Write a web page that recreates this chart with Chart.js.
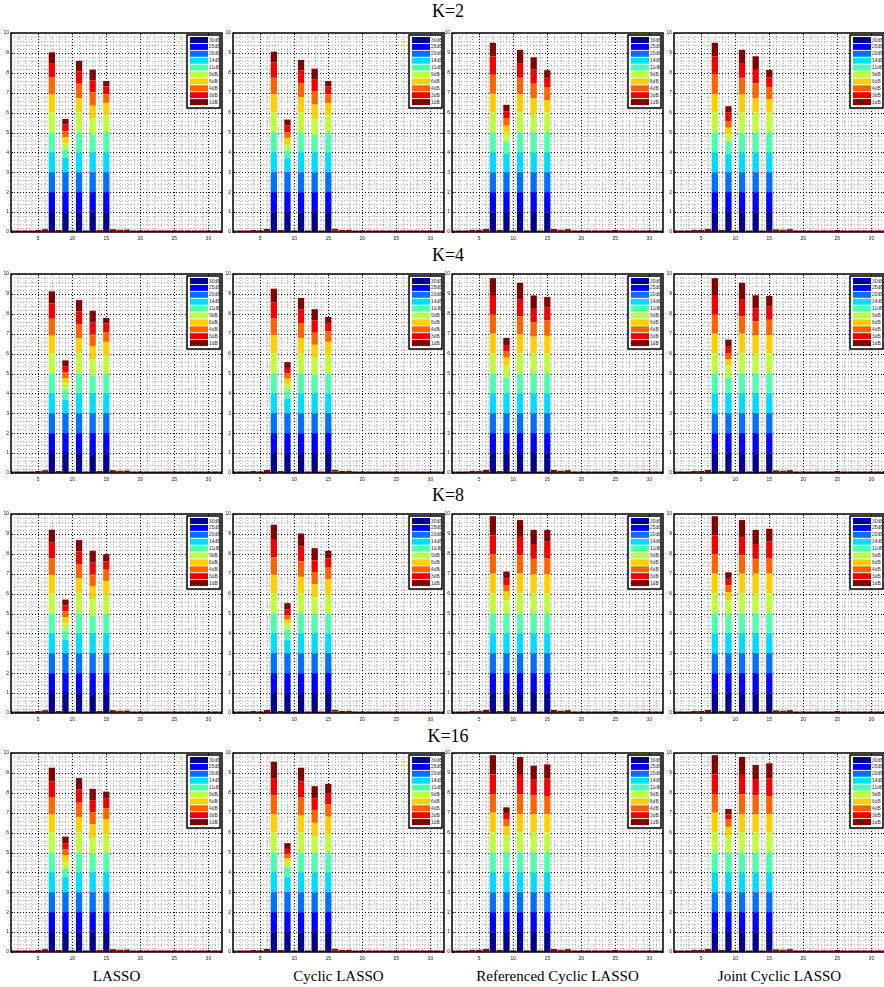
<!DOCTYPE html>
<html>
<head>
<meta charset="utf-8">
<script src="https://cdn.jsdelivr.net/npm/chart.js@4.4.1/dist/chart.umd.min.js"></script>
<style>
  html, body { margin: 0; padding: 0; background: #fff; }
  #fig { position: relative; width: 884px; height: 987px; overflow: hidden; }
  #fig canvas { position: absolute; }
  .ktitle { position: absolute; width: 120px; margin-left: -60px; text-align: center;
            font-family: "Liberation Serif", "Times New Roman", serif; font-size: 18px; line-height: 18px; color: #000; }
  .mlabel { position: absolute; width: 220px; margin-left: -110px; text-align: center;
            font-family: "Liberation Serif", "Times New Roman", serif; font-size: 15px; line-height: 15px; color: #000; }
</style>
</head>
<body>
<div id="fig"></div>
<script>
// x positions of the active sources, SNR series, labels
const barPositions = [7, 9, 11, 13, 15];
const snrLabels = ['30dB', '25dB', '20dB', '14dB', '11dB', '9dB', '6dB', '4dB', '3dB', '1dB'];
const snrColors = ['#00008f', '#0000ff', '#0070ff', '#00dcff', '#50ffb0', '#c0ff40', '#ffd000', '#ff6400', '#f00000', '#800000'];
const kLabels = ['K=2', 'K=4', 'K=8', 'K=16'];
const methodNames = ['LASSO', 'Cyclic LASSO', 'Referenced Cyclic LASSO', 'Joint Cyclic LASSO'];
const xTickValues = [5, 10, 15, 20, 25, 30];

// detection per bar (rows: x=7,9,11,13,15), columns: 30,25,20,14,11,9,6,4,3,1 dB
const lassoK2 = [
  [1, 1, 1, 1, 1, 1, 0.91, 0.86, 0.72, 0.54],
  [1, 1, 1, 0.73, 0.41, 0.31, 0.31, 0.31, 0.33, 0.28],
  [1, 1, 1, 1, 1, 1, 0.73, 0.72, 0.63, 0.52],
  [1, 1, 1, 1, 0.91, 0.79, 0.65, 0.66, 0.61, 0.54],
  [1, 1, 1, 1, 1, 0.86, 0.63, 0.44, 0.38, 0.28]
];
const cyclicK2 = [
  [1, 1, 1, 1, 1, 1, 0.93, 0.82, 0.77, 0.54],
  [1, 1, 1, 0.71, 0.38, 0.31, 0.33, 0.29, 0.33, 0.30],
  [1, 1, 1, 1, 1, 1, 0.77, 0.72, 0.62, 0.54],
  [1, 1, 1, 1, 0.88, 0.79, 0.73, 0.66, 0.59, 0.56],
  [1, 1, 1, 1, 1, 0.86, 0.61, 0.46, 0.38, 0.28]
];
const refK2 = [
  [1, 1, 1, 1, 1, 1, 0.95, 0.95, 0.92, 0.69],
  [1, 1, 1, 0.92, 0.63, 0.44, 0.35, 0.36, 0.36, 0.33],
  [1, 1, 1, 1, 1, 1, 0.93, 0.82, 0.74, 0.66],
  [1, 1, 1, 1, 1, 0.95, 0.77, 0.73, 0.71, 0.62],
  [1, 1, 1, 1, 1, 1, 0.63, 0.63, 0.49, 0.38]
];
const jointK2 = [
  [1, 1, 1, 1, 1, 1, 0.93, 0.98, 0.91, 0.69],
  [1, 1, 1, 0.92, 0.63, 0.36, 0.33, 0.34, 0.42, 0.32],
  [1, 1, 1, 1, 1, 1, 0.90, 0.85, 0.74, 0.66],
  [1, 1, 1, 1, 1, 1, 0.73, 0.74, 0.72, 0.64],
  [1, 1, 1, 1, 1, 1, 0.68, 0.61, 0.49, 0.36]
];
const lassoK4 = [
  [1, 1, 1, 1, 1, 1, 0.90, 0.85, 0.77, 0.61],
  [1, 1, 1, 0.69, 0.47, 0.33, 0.28, 0.30, 0.29, 0.30],
  [1, 1, 1, 1, 1, 1, 0.77, 0.71, 0.63, 0.58],
  [1, 1, 1, 1, 0.90, 0.80, 0.68, 0.59, 0.60, 0.58],
  [1, 1, 1, 1, 0.97, 0.92, 0.70, 0.49, 0.44, 0.27]
];
const cyclicK4 = [
  [1, 1, 1, 1, 1, 1, 0.93, 0.86, 0.78, 0.69],
  [1, 1, 1, 0.72, 0.43, 0.33, 0.26, 0.26, 0.28, 0.29],
  [1, 1, 1, 1, 1, 1, 0.77, 0.77, 0.69, 0.57],
  [1, 1, 1, 1, 0.93, 0.86, 0.65, 0.61, 0.61, 0.57],
  [1, 1, 1, 1, 0.97, 0.92, 0.70, 0.54, 0.41, 0.30]
];
const refK4 = [
  [1, 1, 1, 1, 1, 1, 1, 0.95, 0.95, 0.89],
  [1, 1, 1, 1, 0.80, 0.59, 0.40, 0.31, 0.33, 0.36],
  [1, 1, 1, 1, 1, 1, 0.97, 0.90, 0.87, 0.82],
  [1, 1, 1, 1, 1, 1, 0.85, 0.72, 0.68, 0.67],
  [1, 1, 1, 1, 1, 1, 0.89, 0.77, 0.65, 0.54]
];
const jointK4 = [
  [1, 1, 1, 1, 1, 1, 1, 0.95, 0.95, 0.89],
  [1, 1, 1, 1, 0.80, 0.56, 0.34, 0.33, 0.31, 0.36],
  [1, 1, 1, 1, 1, 1, 1, 0.87, 0.87, 0.82],
  [1, 1, 1, 1, 1, 1, 0.90, 0.72, 0.66, 0.65],
  [1, 1, 1, 1, 1, 1, 0.93, 0.77, 0.66, 0.54]
];
const lassoK8 = [
  [1, 1, 1, 1, 1, 1, 0.93, 0.84, 0.79, 0.65],
  [1, 1, 1, 0.69, 0.44, 0.38, 0.31, 0.29, 0.30, 0.29],
  [1, 1, 1, 1, 1, 1, 0.77, 0.71, 0.63, 0.58],
  [1, 1, 1, 1, 0.89, 0.86, 0.63, 0.59, 0.60, 0.58],
  [1, 1, 1, 1, 0.97, 0.93, 0.74, 0.56, 0.42, 0.36]
];
const cyclicK8 = [
  [1, 1, 1, 1, 1, 1, 0.95, 0.87, 0.88, 0.76],
  [1, 1, 1, 0.66, 0.52, 0.30, 0.21, 0.23, 0.29, 0.31],
  [1, 1, 1, 1, 1, 1, 0.84, 0.78, 0.74, 0.66],
  [1, 1, 1, 1, 0.95, 0.85, 0.68, 0.60, 0.59, 0.61],
  [1, 1, 1, 1, 0.97, 0.93, 0.82, 0.58, 0.47, 0.38]
];
const refK8 = [
  [1, 1, 1, 1, 1, 1, 1, 0.98, 0.95, 0.96],
  [1, 1, 1, 1, 0.95, 0.71, 0.44, 0.33, 0.32, 0.36],
  [1, 1, 1, 1, 1, 1, 1, 0.92, 0.93, 0.85],
  [1, 1, 1, 1, 1, 1, 0.98, 0.77, 0.74, 0.71],
  [1, 1, 1, 1, 1, 1, 0.98, 0.81, 0.82, 0.59]
];
const jointK8 = [
  [1, 1, 1, 1, 1, 1, 1, 0.98, 0.95, 0.96],
  [1, 1, 1, 1, 0.95, 0.71, 0.41, 0.34, 0.33, 0.33],
  [1, 1, 1, 1, 1, 1, 1, 0.92, 0.92, 0.86],
  [1, 1, 1, 1, 1, 1, 1, 0.75, 0.74, 0.71],
  [1, 1, 1, 1, 1, 1, 1, 0.79, 0.82, 0.65]
];
const lassoK16 = [
  [1, 1, 1, 1, 1, 1, 0.91, 0.85, 0.82, 0.68],
  [1, 1, 1, 0.76, 0.41, 0.36, 0.32, 0.30, 0.32, 0.33],
  [1, 1, 1, 1, 1, 1, 0.78, 0.72, 0.67, 0.57],
  [1, 1, 1, 1, 0.93, 0.84, 0.65, 0.61, 0.60, 0.57],
  [1, 1, 1, 1, 0.98, 0.95, 0.75, 0.54, 0.49, 0.35]
];
const cyclicK16 = [
  [1, 1, 1, 1, 1, 1, 0.91, 0.97, 0.86, 0.82],
  [1, 1, 1, 0.76, 0.49, 0.28, 0.18, 0.22, 0.25, 0.29],
  [1, 1, 1, 1, 1, 1, 0.86, 0.90, 0.82, 0.68],
  [1, 1, 1, 1, 0.97, 0.86, 0.66, 0.65, 0.59, 0.60],
  [1, 1, 1, 1, 1, 0.93, 0.88, 0.62, 0.53, 0.49]
];
const refK16 = [
  [1, 1, 1, 1, 1, 1, 1, 0.94, 0.99, 0.96],
  [1, 1, 1, 1, 1, 0.88, 0.44, 0.36, 0.30, 0.29],
  [1, 1, 1, 1, 1, 1, 0.94, 0.98, 0.98, 0.90],
  [1, 1, 1, 1, 1, 1, 0.91, 0.95, 0.83, 0.67],
  [1, 1, 1, 1, 1, 1, 0.94, 0.90, 0.87, 0.72]
];
const jointK16 = [
  [1, 1, 1, 1, 1, 1, 1, 0.94, 0.99, 0.96],
  [1, 1, 1, 1, 1, 0.83, 0.46, 0.36, 0.26, 0.28],
  [1, 1, 1, 1, 1, 1, 0.94, 0.98, 0.98, 0.90],
  [1, 1, 1, 1, 1, 1, 0.91, 0.95, 0.83, 0.71],
  [1, 1, 1, 1, 1, 1, 0.94, 0.90, 0.87, 0.77]
];

// false alarms at the empty positions x=1..32 (1dB and 4dB series)
const lassoFloor1dB  = [0.08, 0.08, 0.08, 0.08, 0.08, 0.09, 0, 0.08, 0, 0.08, 0, 0.08, 0, 0.08, 0, 0.09, 0.08, 0.08, 0.08, 0.08, 0.08, 0.08, 0.08, 0.08, 0.08, 0.08, 0.08, 0.08, 0.08, 0.08, 0.08, 0.08];
const lassoFloor4dB  = [0, 0, 0, 0, 0.02, 0.05, 0, 0.02, 0, 0, 0, 0, 0, 0.02, 0, 0.05, 0.03, 0.04, 0, 0, 0, 0, 0, 0, 0, 0, 0, 0, 0, 0, 0, 0];
const cyclicFloor1dB = [0.08, 0.08, 0.08, 0.08, 0.08, 0.10, 0, 0.08, 0, 0.08, 0, 0.08, 0, 0.08, 0, 0.10, 0.08, 0.08, 0.08, 0.08, 0.08, 0.08, 0.08, 0.08, 0.08, 0.08, 0.08, 0.08, 0.08, 0.08, 0.08, 0.08];
const cyclicFloor4dB = [0, 0, 0, 0.02, 0, 0.05, 0, 0.02, 0, 0, 0, 0, 0, 0, 0, 0.06, 0.02, 0.03, 0, 0, 0, 0, 0, 0, 0, 0, 0, 0, 0, 0, 0, 0];
const refFloor1dB    = [0.08, 0.08, 0.08, 0.08, 0.08, 0.10, 0, 0.08, 0, 0.08, 0, 0.08, 0, 0.08, 0, 0.10, 0.08, 0.09, 0.08, 0.08, 0.08, 0.08, 0.08, 0.08, 0.08, 0.08, 0.08, 0.08, 0.08, 0.08, 0.08, 0.08];
const refFloor4dB    = [0, 0, 0, 0.03, 0.03, 0.05, 0, 0.02, 0, 0, 0, 0, 0, 0, 0, 0.05, 0.03, 0.05, 0, 0, 0, 0, 0, 0, 0.02, 0, 0, 0, 0, 0, 0, 0];
const jointFloor1dB  = [0.08, 0.08, 0.08, 0.08, 0.08, 0.10, 0, 0.08, 0, 0.08, 0, 0.08, 0, 0.08, 0, 0.09, 0.08, 0.09, 0.08, 0.08, 0.08, 0.08, 0.08, 0.08, 0.08, 0.08, 0.08, 0.08, 0.08, 0.08, 0.08, 0.08];
const jointFloor4dB  = [0, 0, 0, 0.03, 0.03, 0.05, 0, 0.02, 0, 0, 0, 0, 0, 0, 0, 0.04, 0.03, 0.05, 0, 0, 0, 0, 0, 0, 0.02, 0, 0, 0, 0, 0, 0, 0];

const panels = [
  [lassoK2, cyclicK2, refK2, jointK2],
  [lassoK4, cyclicK4, refK4, jointK4],
  [lassoK8, cyclicK8, refK8, jointK8],
  [lassoK16, cyclicK16, refK16, jointK16]
];
const floors1dB = [lassoFloor1dB, cyclicFloor1dB, refFloor1dB, jointFloor1dB];
const floors4dB = [lassoFloor4dB, cyclicFloor4dB, refFloor4dB, jointFloor4dB];

// layout (plot area of each panel)
const colLeft = [11, 233, 452, 674];
const rowTop = [29, 270, 510, 749];
const plotW = 211, plotH = 203;
const titleTop = [2, 246, 486, 727];
const labelTop = 969;

function buildDatasets(bars, floor1, floor4) {
  return snrLabels.map((label, s) => {
    const data = [];
    for (let x = 1; x <= 32; x++) {
      const b = barPositions.indexOf(x);
      let y = 0;
      if (b >= 0) y = bars[b][s];
      else if (s === 9) y = floor1[x - 1];
      else if (s === 7) y = floor4[x - 1];
      data.push({ x: x, y: y });
    }
    return {
      label: label,
      data: data,
      backgroundColor: snrColors[s],
      borderWidth: 0,
      categoryPercentage: 1,
      barPercentage: 0.92
    };
  });
}

// matlab style grid, box and legend
const matlabLook = {
  id: 'matlabLook',
  beforeDatasetsDraw(chart) {
    const { ctx, chartArea: a, scales: { x, y } } = chart;
    ctx.save();
    ctx.lineWidth = 1;
    ctx.setLineDash([1, 2]);
    ctx.strokeStyle = '#b4b4b4';
    ctx.beginPath();
    for (let v = 2; v < 32; v++) {
      if (v % 5 === 0) continue;
      const px = Math.round(x.getPixelForValue(v)) + 0.5;
      ctx.moveTo(px, a.top); ctx.lineTo(px, a.bottom);
    }
    for (let i = 1; i < 50; i++) {
      if (i % 5 === 0) continue;
      const py = Math.round(y.getPixelForValue(i / 5)) + 0.5;
      ctx.moveTo(a.left, py); ctx.lineTo(a.right, py);
    }
    ctx.stroke();
    ctx.strokeStyle = '#000';
    ctx.beginPath();
    xTickValues.forEach(v => {
      const px = Math.round(x.getPixelForValue(v)) + 0.5;
      ctx.moveTo(px, a.top); ctx.lineTo(px, a.bottom);
    });
    for (let v = 1; v < 10; v++) {
      const py = Math.round(y.getPixelForValue(v)) + 0.5;
      ctx.moveTo(a.left, py); ctx.lineTo(a.right, py);
    }
    ctx.stroke();
    ctx.restore();
  },
  afterDatasetsDraw(chart) {
    const { ctx, chartArea: a, scales: { x, y } } = chart;
    ctx.save();
    // box + ticks
    ctx.strokeStyle = '#000';
    ctx.lineWidth = 1.5;
    ctx.strokeRect(a.left, a.top, a.right - a.left, a.bottom - a.top);
    ctx.lineWidth = 1;
    ctx.beginPath();
    for (let v = 0; v <= 10; v++) {
      const py = Math.round(y.getPixelForValue(v)) + 0.5;
      ctx.moveTo(a.left, py); ctx.lineTo(a.left + 2, py);
      ctx.moveTo(a.right, py); ctx.lineTo(a.right - 2, py);
    }
    xTickValues.forEach(v => {
      const px = Math.round(x.getPixelForValue(v)) + 0.5;
      ctx.moveTo(px, a.bottom); ctx.lineTo(px, a.bottom - 2);
      ctx.moveTo(px, a.top); ctx.lineTo(px, a.top + 2);
    });
    ctx.stroke();

    // legend in the upper right corner
    const w = 33, h = 73;
    const lx = a.right - 2 - w, ly = a.top + 2;
    ctx.fillStyle = '#fff';
    ctx.fillRect(lx, ly, w, h);
    ctx.lineWidth = 1.5;
    ctx.strokeStyle = '#000';
    ctx.strokeRect(lx, ly, w, h);
    ctx.font = '5px "Liberation Sans", Arial, sans-serif';
    ctx.textBaseline = 'middle';
    ctx.textAlign = 'left';
    chart.data.datasets.forEach((ds, i) => {
      const ry = ly + 2 + i * 6.9;
      ctx.fillStyle = ds.backgroundColor;
      ctx.fillRect(lx + 3, ry, 18, 6);
      ctx.fillStyle = '#333';
      ctx.fillText(ds.label, lx + 22, ry + 3.2);
    });
    ctx.restore();
  }
};

const fig = document.getElementById('fig');

kLabels.forEach((k, r) => {
  const t = document.createElement('div');
  t.className = 'ktitle';
  t.style.left = '448px';
  t.style.top = titleTop[r] + 'px';
  t.textContent = k;
  fig.appendChild(t);

  methodNames.forEach((m, c) => {
    const canvas = document.createElement('canvas');
    canvas.width = plotW + 12;
    canvas.height = plotH + 12;
    canvas.style.left = (colLeft[c] - 11) + 'px';
    canvas.style.top = (rowTop[r] - 1) + 'px';
    fig.appendChild(canvas);

    new Chart(canvas.getContext('2d'), {
      type: 'bar',
      data: { datasets: buildDatasets(panels[r][c], floors1dB[c], floors4dB[c]) },
      options: {
        responsive: false,
        animation: false,
        devicePixelRatio: 1,
        events: [],
        layout: { padding: { top: 1, right: 1, left: 0, bottom: 0 } },
        plugins: { legend: { display: false }, tooltip: { enabled: false } },
        scales: {
          x: {
            type: 'linear',
            stacked: true,
            offset: false,
            min: 1,
            max: 32,
            grid: { display: false, drawTicks: false, offset: false },
            border: { display: false },
            afterBuildTicks: s => { s.ticks = xTickValues.map(v => ({ value: v })); },
            afterFit: s => { s.height = 11; },
            ticks: { font: { size: 5, family: 'Liberation Sans' }, color: '#222', padding: 4, maxRotation: 0, autoSkip: false }
          },
          y: {
            stacked: true,
            min: 0,
            max: 10,
            grid: { display: false, drawTicks: false },
            border: { display: false },
            afterFit: s => { s.width = 11; },
            ticks: { stepSize: 1, font: { size: 5, family: 'Liberation Sans' }, color: '#222', padding: 2 }
          }
        }
      },
      plugins: [matlabLook]
    });
  });
});

methodNames.forEach((m, c) => {
  const l = document.createElement('div');
  l.className = 'mlabel';
  l.style.left = (colLeft[c] + plotW / 2) + 'px';
  l.style.top = labelTop + 'px';
  l.textContent = m;
  fig.appendChild(l);
});
</script>
</body>
</html>
